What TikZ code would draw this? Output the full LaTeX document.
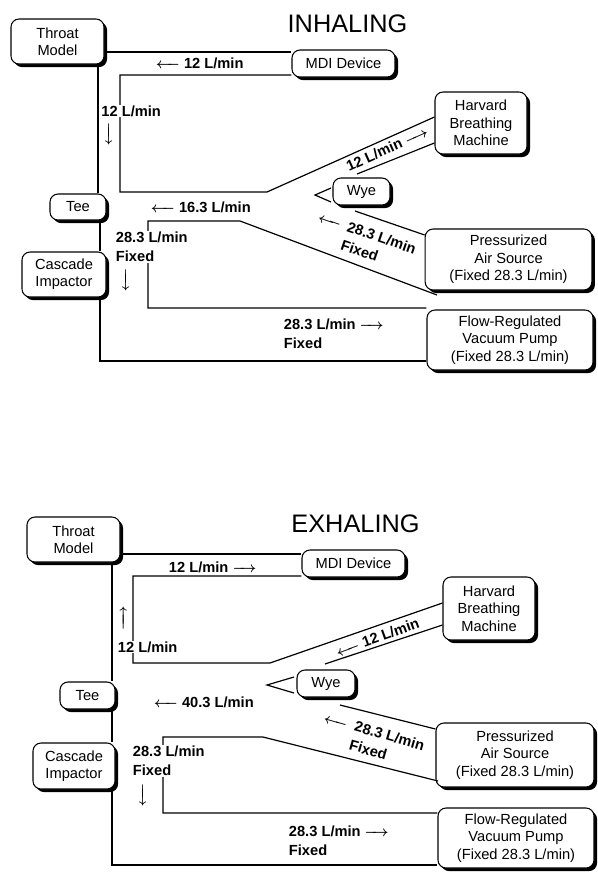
\documentclass[tikz,border=0pt]{standalone}
\usepackage{fontspec}
\setmainfont{Liberation Sans}
\usetikzlibrary{shadows}
\newcommand\myLarr{\makebox[18pt]{\boldmath\leftarrowfill}}
\newcommand\myRarr{\makebox[18pt]{\boldmath\rightarrowfill}}
\tikzset{
  box/.style={draw, line width=0.8pt, rounded corners=6pt, fill=white,
    drop shadow={shadow xshift=2.3pt, shadow yshift=-2.3pt, opacity=1, fill=black},
    align=center, inner sep=0pt, font=\fontsize{11}{13}\selectfont},
  conn/.style={line width=0.9pt},
  lab/.style={font=\fontsize{11}{14.5}\selectfont\bfseries, inner sep=0.5pt, align=left},
  wlab/.style={lab, fill=white},
  ttl/.style={font=\fontsize{19}{22}\selectfont, inner sep=0pt},
  varr/.style={inner sep=0pt}
}
\begin{document}
\begin{tikzpicture}[x=0.75pt, y=-0.75pt]
\useasboundingbox (0,0) rectangle (598,872);
% ================= INHALING =================
\node[ttl] (t1) at (347.5,24) {INHALING};
\node[box, minimum width=69.75pt, minimum height=33.75pt] (thr1) at (57.5,41.5) {Throat\\Model};
\node[box, minimum width=77.25pt, minimum height=20.25pt] (mdi1) at (343.5,63.5) {MDI Device};
\node[box, minimum width=69pt, minimum height=46.5pt] (hbm1) at (481,123) {Harvard\\Breathing\\Machine};
\node[box, minimum width=42.75pt, minimum height=20.25pt] (wye1) at (361.5,191.5) {Wye};
\node[box, minimum width=42pt, minimum height=19.5pt] (tee1) at (78,207) {Tee};
\node[box, minimum width=63pt, minimum height=33.75pt] (cas1) at (64,274.5) {Cascade\\Impactor};
\node[box, minimum width=125pt, minimum height=45.75pt] (pas1) at (508.5,259.5) {Pressurized\\Air Source\\(Fixed 28.3 L/min)};
\node[box, minimum width=124.5pt, minimum height=45pt] (vac1) at (510,340) {Flow-Regulated\\Vacuum Pump\\(Fixed 28.3 L/min)};
\coordinate (pe1) at (437,295);
\coordinate (wo1) at (355,211);
% connectors
\draw[conn] (thr1.east |- 0,52) -- (mdi1.west |- 0,52);
\draw[conn] (mdi1.west |- 0,75) -- (120,75) -- (120,192) -- (267,192) -- (hbm1.west |- 0,117);
\draw[conn] (hbm1.west |- 0,143) -- (357,174);
\draw[conn] (331,188) -- (315,195) -- (331,202);
\draw[conn] (wo1) -- (pas1.west |- 0,235);
\draw[conn] (pe1) -- (240,221) -- (148,221) -- (148,308) -- (vac1.west |- 0,308);
\draw[conn] (thr1.south -| 98,0) -- (tee1.north -| 98,0);
\draw[conn] (tee1.south -| 100,0) -- (cas1.north -| 100,0);
\draw[conn] (cas1.south -| 100,0) -- (100,361) -- (vac1.west |- 0,361);
% labels
\node[lab, anchor=west] (l11) at (155,63) {\myLarr\ 12 L/min};
\node[wlab, anchor=west] (l12) at (100.5,111) {12 L/min};
\node[varr, rotate=-90] (a12) at (108,134) {\myRarr};
\node[lab, anchor=west] (l13) at (150,207) {\myLarr\ 16.3 L/min};
\node[wlab, anchor=west] (l14) at (115,247) {28.3 L/min\\Fixed};
\node[varr, rotate=-90] (a14) at (125,280) {\myRarr};
\node[lab, anchor=west] (l15) at (283,333.5) {28.3 L/min \myRarr\\Fixed};
\node[lab, rotate=24] (l16) at (387,149) {12 L/min \myRarr};
\node[lab, rotate=-19] (l17) at (378.6,246.9) {\llap{\myLarr\hspace{5pt}}28.3 L/min\\Fixed};
% ================= EXHALING =================
\node[ttl] (t2) at (355.5,524) {EXHALING};
\node[box, minimum width=69.75pt, minimum height=33.75pt] (thr2) at (73.5,539.5) {Throat\\Model};
\node[box, minimum width=77.25pt, minimum height=20.25pt] (mdi2) at (353.5,563.5) {MDI Device};
\node[box, minimum width=69pt, minimum height=47.25pt] (hbm2) at (489,608.5) {Harvard\\Breathing\\Machine};
\node[box, minimum width=43.5pt, minimum height=20.25pt] (wye2) at (326,683.5) {Wye};
\node[box, minimum width=41.25pt, minimum height=20.25pt] (tee2) at (87.5,695.5) {Tee};
\node[box, minimum width=61.5pt, minimum height=34.5pt] (cas2) at (74,766) {Cascade\\Impactor};
\node[box, minimum width=118.5pt, minimum height=48pt] (pas2) at (515,755) {Pressurized\\Air Source\\(Fixed 28.3 L/min)};
\node[box, minimum width=117pt, minimum height=45pt] (vac2) at (516,838) {Flow-Regulated\\Vacuum Pump\\(Fixed 28.3 L/min)};
\coordinate (pe2) at (438,781);
\coordinate (wo2) at (340,705);
% connectors
\draw[conn] (thr2.east |- 0,554) -- (mdi2.west |- 0,554);
\draw[conn] (mdi2.west |- 0,576) -- (133,576) -- (133,663) -- (270,663) -- (hbm2.west |- 0,603);
\draw[conn] (hbm2.west |- 0,625) -- (325,664);
\draw[conn] (294,677) -- (267,685) -- (294,693);
\draw[conn] (wo2) -- (pas2.west |- 0,729);
\draw[conn] (pe2) -- (263,737) -- (163,737) -- (163,813) -- (vac2.west |- 0,813);
\draw[conn] (thr2.south -| 112,0) -- (tee2.north -| 112,0);
\draw[conn] (tee2.south -| 112,0) -- (cas2.north -| 112,0);
\draw[conn] (cas2.south -| 112,0) -- (112,865) -- (vac2.west |- 0,865);
% labels
\node[lab, anchor=west] (l21) at (168,567) {12 L/min \myRarr};
\node[varr, rotate=90] (a22) at (124,618) {\myRarr};
\node[wlab, anchor=west] (l22) at (117,647) {12 L/min};
\node[lab, anchor=west] (l23) at (153,702) {\myLarr\ 40.3 L/min};
\node[wlab, anchor=west] (l24) at (132,761) {28.3 L/min\\Fixed};
\node[varr, rotate=-90] (a24) at (142,795) {\myRarr};
\node[lab, anchor=west] (l25) at (288,840.5) {28.3 L/min \myRarr\\Fixed};
\node[lab, rotate=20] (l26) at (377.4,637.5) {\myLarr\ 12 L/min};
\node[lab, rotate=-16] (l27) at (387,745) {\llap{\myLarr\hspace{6pt}}28.3 L/min\\Fixed};
\end{tikzpicture}
\end{document}
